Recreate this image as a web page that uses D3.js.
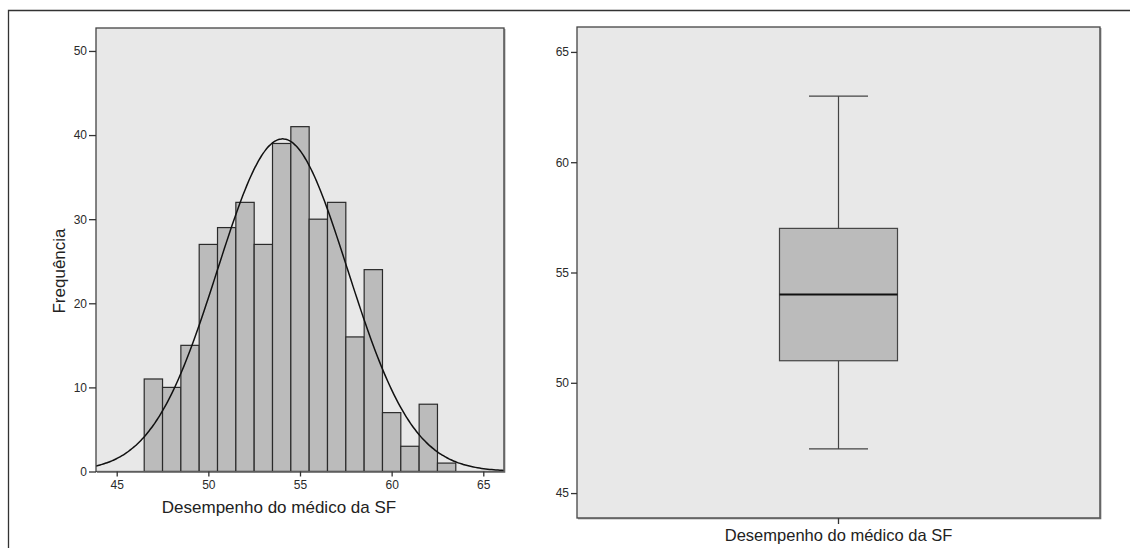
<!DOCTYPE html>
<html>
<head>
<meta charset="utf-8">
<script src="https://cdn.jsdelivr.net/npm/d3@7"></script>
<style>
  html, body { margin: 0; padding: 0; background: #fff; }
  svg { display: block; }
  .tick text { font-family: "Liberation Sans Narrow", "Arial Narrow", "Liberation Sans", Arial, sans-serif; font-size: 12px; fill: #2a2a2a; }
  .tick line { stroke: #333; stroke-width: 1.3; }
  .domain { display: none; }
  .title { font-family: "Liberation Sans", Arial, sans-serif; fill: #222; }
</style>
</head>
<body>
<svg id="chart" width="1130" height="548"></svg>
<script>
// Histogram of "Desempenho do médico da SF" (bins of width 1)
const binCenters = [47, 48, 49, 50, 51, 52, 53, 54, 55, 56, 57, 58, 59, 60, 61, 62, 63];
const binCounts  = [11, 10, 15, 27, 29, 32, 27, 39, 41, 30, 32, 16, 24, 7, 3, 8, 1];
const binWidth = 1;

// fitted normal curve parameters
const curveMean = 54.05;
const curveSd = 3.55;

// boxplot summary
const boxCategory = 'Desempenho do médico da SF';
const boxStats = { low: 47, q1: 51, median: 54, q3: 57, high: 63 };

const valueTicks = [45, 50, 55, 60, 65];
const freqTicks = [0, 10, 20, 30, 40, 50];
const valueDomain = [43.87, 66.13];
const freqDomain = [0, 52.73];

const svg = d3.select('#chart');

// outer frame (top + left edge only visible)
svg.append('path')
    .attr('d', 'M8.5,548 V10.5 H1130')
    .attr('fill', 'none')
    .attr('stroke', '#333')
    .attr('stroke-width', 1.3);

function panelFrame(x0, y0, x1, y1) {
    svg.append('rect')
        .attr('x', x0).attr('y', y0)
        .attr('width', x1 - x0).attr('height', y1 - y0)
        .attr('fill', '#e8e8e8');
    return () => {
        svg.append('rect')
            .attr('x', x0).attr('y', y0)
            .attr('width', x1 - x0).attr('height', y1 - y0)
            .attr('fill', 'none')
            .attr('stroke', '#444')
            .attr('stroke-width', 1.3);
        svg.append('path')
            .attr('d', `M${x1 + 0.5},${y0 + 1} V${y1 + 0.5} H${x0 + 1}`)
            .attr('fill', 'none')
            .attr('stroke', '#666')
            .attr('stroke-width', 1.6);
    };
}

// ---------- left: histogram ----------
const L = { x0: 96, x1: 504, y0: 28, y1: 471.5 };
const finishLeft = panelFrame(L.x0, L.y0, L.x1, L.y1);

const x = d3.scaleLinear().domain(valueDomain).range([L.x0, L.x1]);
const y = d3.scaleLinear().domain(freqDomain).range([L.y1, L.y0]);

const bins = binCenters.map((c, i) => ({ c, n: binCounts[i] }));

svg.append('g')
    .selectAll('rect')
    .data(bins)
    .join('rect')
    .attr('x', d => x(d.c - binWidth / 2))
    .attr('y', d => y(d.n))
    .attr('width', d => x(d.c + binWidth / 2) - x(d.c - binWidth / 2))
    .attr('height', d => y(0) - y(d.n))
    .attr('fill', '#bbbbbb')
    .attr('stroke', '#2a2a2a')
    .attr('stroke-width', 1.2);

// normal curve scaled to counts
const total = d3.sum(binCounts);
const normal = v => total * binWidth / (curveSd * Math.sqrt(2 * Math.PI)) *
    Math.exp(-0.5 * Math.pow((v - curveMean) / curveSd, 2));
const curvePts = d3.range(0, 201).map(i => valueDomain[0] + (valueDomain[1] - valueDomain[0]) * i / 200);

svg.append('clipPath').attr('id', 'clipL')
    .append('rect')
    .attr('x', L.x0).attr('y', L.y0)
    .attr('width', L.x1 - L.x0).attr('height', L.y1 - L.y0);

svg.append('path')
    .datum(curvePts)
    .attr('clip-path', 'url(#clipL)')
    .attr('fill', 'none')
    .attr('stroke', '#111')
    .attr('stroke-width', 1.5)
    .attr('d', d3.line().x(d => x(d)).y(d => y(normal(d))).curve(d3.curveBasis));

finishLeft();

svg.append('g')
    .attr('transform', `translate(${L.x0},0)`)
    .call(d3.axisLeft(y).tickValues(freqTicks).tickSize(7).tickPadding(2));

svg.append('g')
    .attr('transform', `translate(0,${L.y1})`)
    .call(d3.axisBottom(x).tickValues(valueTicks).tickSize(5).tickPadding(4));

svg.append('text')
    .attr('class', 'title')
    .attr('x', 279).attr('y', 512.5)
    .attr('text-anchor', 'middle')
    .style('font-size', '17px')
    .text('Desempenho do médico da SF');

svg.append('text')
    .attr('class', 'title')
    .attr('transform', 'translate(65,271) rotate(-90)')
    .attr('text-anchor', 'middle')
    .style('font-size', '17px')
    .text('Frequência');

// ---------- right: boxplot ----------
const R = { x0: 577, x1: 1100, y0: 27, y1: 518 };
const finishRight = panelFrame(R.x0, R.y0, R.x1, R.y1);

const yb = d3.scaleLinear().domain(valueDomain).range([R.y1, R.y0]);
const xb = d3.scaleBand().domain([boxCategory]).range([R.x0, R.x1]).paddingOuter(1.716);

const bx = xb(boxCategory);
const bw = xb.bandwidth();
const cx = bx + bw / 2;
const capW = bw / 2;

const box = svg.append('g');
// whiskers
box.selectAll('line.whisker')
    .data([[boxStats.q3, boxStats.high], [boxStats.q1, boxStats.low]])
    .join('line')
    .attr('x1', cx).attr('x2', cx)
    .attr('y1', d => yb(d[0])).attr('y2', d => yb(d[1]))
    .attr('stroke', '#444').attr('stroke-width', 1.2);
box.selectAll('line.cap')
    .data([boxStats.high, boxStats.low])
    .join('line')
    .attr('x1', cx - capW / 2).attr('x2', cx + capW / 2)
    .attr('y1', d => yb(d)).attr('y2', d => yb(d))
    .attr('stroke', '#444').attr('stroke-width', 1.2);
box.append('rect')
    .attr('x', bx).attr('y', yb(boxStats.q3))
    .attr('width', bw).attr('height', yb(boxStats.q1) - yb(boxStats.q3))
    .attr('fill', '#bbbbbb')
    .attr('stroke', '#444').attr('stroke-width', 1.2);
box.append('line')
    .attr('x1', bx).attr('x2', bx + bw)
    .attr('y1', yb(boxStats.median)).attr('y2', yb(boxStats.median))
    .attr('stroke', '#111').attr('stroke-width', 2);

finishRight();

svg.append('g')
    .attr('transform', `translate(${R.x0},0)`)
    .call(d3.axisLeft(yb).tickValues(valueTicks).tickSize(6).tickPadding(2));

svg.append('g')
    .attr('transform', `translate(0,${R.y1})`)
    .call(d3.axisBottom(xb).tickSize(6).tickFormat(''));

svg.append('text')
    .attr('class', 'title')
    .attr('x', cx).attr('y', 541)
    .attr('text-anchor', 'middle')
    .style('font-size', '16.5px')
    .text(boxCategory);
</script>
</body>
</html>
